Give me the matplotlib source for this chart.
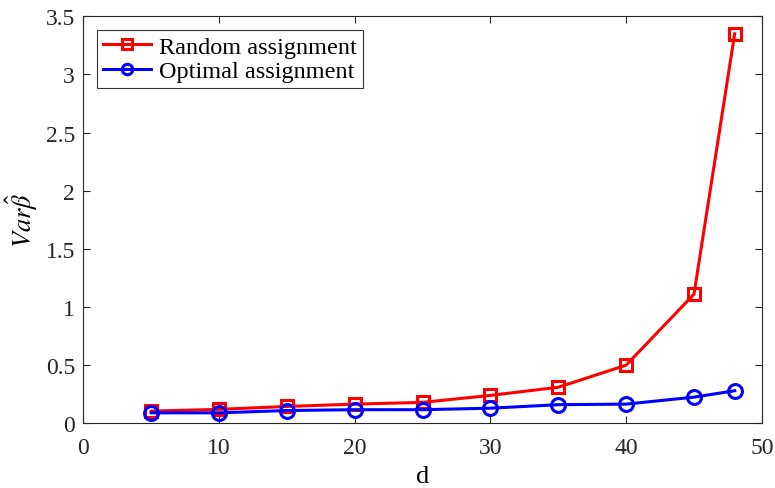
import numpy as np
import matplotlib
matplotlib.use("Agg")
import matplotlib.pyplot as plt

plt.rcParams['font.family'] = ['Liberation Serif', 'DejaVu Serif']
plt.rcParams['mathtext.fontset'] = 'stix'

# Variance of beta-hat vs. d for both assignment strategies
d = [5, 10, 15, 20, 25, 30, 35, 40, 45, 48]
var_random = [0.105, 0.12, 0.145, 0.165, 0.18, 0.24, 0.31, 0.50, 1.11, 3.35]
var_optimal = [0.09, 0.09, 0.11, 0.117, 0.117, 0.13, 0.16, 0.165, 0.225, 0.28]

fig = plt.figure(figsize=(7.75, 4.89), dpi=100)
ax = fig.add_axes([0.1075, 0.1323, 0.8755, 0.8323])

ax.plot(d, var_random, color='red', lw=2.2, marker='s', ms=9,
        mfc='none', mew=2.2, label='Random assignment')
ax.plot(d, var_optimal, color='blue', lw=2.2, marker='o', ms=10,
        mfc='none', mew=2.2, label='Optimal assignment')

ax.set_xlim(0, 50)
ax.set_ylim(0, 3.5)
ax.set_xticks(np.arange(0, 51, 10))
ax.set_yticks(np.arange(0, 3.51, 0.5))
ax.set_yticklabels(['0', '0.5', '1', '1.5', '2', '2.5', '3', '3.5'])
ax.tick_params(direction='in', top=True, right=True, labelsize=17,
               length=5, width=0.8, colors='#262626', labelcolor='#262626')
ax.tick_params(axis='x', pad=10)
ax.tick_params(axis='y', pad=6)
for s in ax.spines.values():
    s.set_color('#262626')
    s.set_linewidth(0.8)

ax.set_xlabel('d', fontsize=19, labelpad=5)
ax.set_ylabel(r'$Var\hat{\beta}$', fontsize=19, labelpad=4)

leg = ax.legend(loc='upper left', fontsize=17.5, frameon=True, fancybox=False,
                edgecolor='black', borderpad=0.25, labelspacing=0.1,
                handlelength=2.0, handletextpad=0.3, borderaxespad=0.55,
                markerscale=0.75)
leg.get_frame().set_linewidth(0.8)

fig.savefig('out.png', dpi=100)
